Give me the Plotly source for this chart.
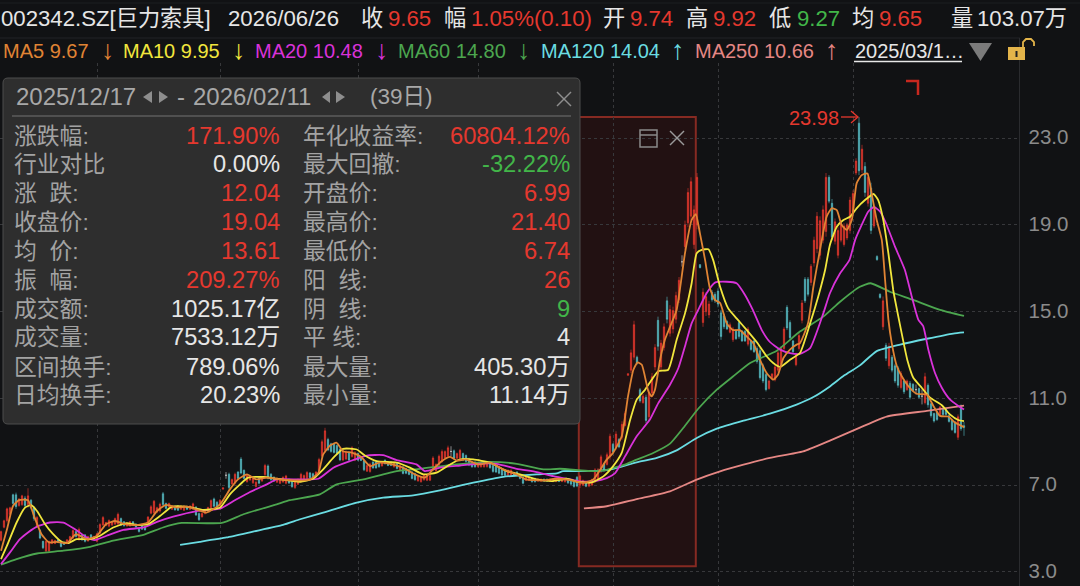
import plotly.graph_objects as go

W, H = 1080, 586
BG = "#111214"
RED = "#e5382e"
GREEN = "#42b649"
TEAL = "#57bcc4"
WHITE = "#e6e6e6"
GRAY = "#a3a3a3"
FONT = "Liberation Sans, Noto Sans CJK SC, sans-serif"

# ---------- candles (one entry per trading day) ----------
highs = [
 4.9,5.4,5.96,6.0,6.6,6.65,6.4,6.55,6.5,6.85,
 6.35,6.03,5.57,4.96,4.43,4.43,4.43,4.5,4.47,4.5,
 4.43,4.38,4.5,4.66,4.96,4.88,5.04,4.73,4.73,4.66,
 4.73,4.66,4.8,5.24,5.57,5.3,5.42,5.34,5.5,5.73,
 5.5,5.34,5.27,5.34,5.34,5.23,5.04,5.15,5.12,5.57,
 6.07,6.31,6.0,6.19,6.68,6.19,6.19,6.07,6.05,6.07,
 6.07,6.07,6.03,6.07,6.19,6.03,5.73,5.73,5.88,6.0,
 6.34,6.42,6.26,6.35,6.88,7.6,7.57,7.3,7.57,7.64,
 8.29,7.72,7.49,7.45,7.35,7.18,7.34,7.4,7.98,7.95,
 7.55,7.4,7.35,7.3,7.4,7.47,7.3,7.2,7.2,7.3,
 7.57,7.49,7.64,7.6,7.57,7.64,8.26,9.1,9.64,9.18,
 8.95,8.95,8.87,8.72,8.64,8.6,8.56,8.79,8.56,8.5,
 8.33,8.18,7.95,8.03,8.1,8.1,8.1,8.05,8.18,8.1,
 8.1,8.05,8.03,7.95,7.87,7.8,7.72,7.64,7.57,7.45,
 7.41,7.5,7.49,7.49,8.33,8.0,8.41,8.64,8.6,8.82,
 8.79,8.64,8.5,8.67,8.5,8.41,8.26,8.1,8.1,8.05,
 8.03,8.05,8.1,8.05,7.95,7.9,7.87,7.75,7.72,7.72,
 7.72,7.6,7.64,7.5,7.41,7.41,7.41,7.34,7.34,7.3,
 7.3,7.3,7.3,7.3,7.3,7.3,7.3,7.3,7.34,7.3,
 7.25,7.18,7.41,7.48,7.25,7.15,7.15,7.3,7.78,7.78,
 8.4,8.02,8.5,9.37,8.94,9.48,9.17,9.94,10.4,12.15,
 13.25,14.58,12.97,11.48,11.2,11.17,11.4,12.17,13.5,14.77,
 13.7,14.46,15.69,15.3,15.23,15.92,16.6,17.6,19.2,20.7,
 21.2,19.9,21.4,17.2,16.08,15.9,15.5,16.0,15.9,16.08,
 15.08,14.9,14.6,14.5,14.3,14.2,14.6,14.15,14.15,14.3,
 13.7,13.7,13.4,13.32,12.6,12.17,11.86,12.17,12.55,13.2,
 13.4,14.3,15.3,14.6,13.7,13.1,14.0,15.54,16.6,16.6,
 17.2,18.46,19.6,19.4,19.9,21.4,21.3,20.2,19.3,18.9,
 19.2,19.08,19.1,20.3,20.6,22.08,23.98,22.7,21.9,21.4,
 20.95,19.85,17.6,15.85,15.7,13.56,13.56,13.0,12.6,12.49,
 12.26,11.87,11.87,11.8,11.7,11.64,11.5,11.41,12.18,11.69,
 10.8,10.34,10.42,10.65,10.57,10.57,10.26,10.03,9.96,10.26,
 10.72,9.92]
lows = [
 4.4,5.0,5.27,5.6,6.1,5.9,6.0,6.03,5.95,5.96,
 5.88,5.35,5.04,4.5,4.04,3.89,3.89,4.27,4.27,4.32,
 4.12,4.23,4.27,4.32,4.5,4.58,4.43,4.43,4.35,4.38,
 4.5,4.43,4.35,4.73,5.11,5.1,5.04,5.11,5.15,5.11,
 5.11,5.08,5.08,5.08,5.11,5.03,4.81,4.93,4.9,5.19,
 5.65,5.65,5.7,5.73,6.03,5.88,5.96,5.85,5.82,5.8,
 5.85,5.8,5.85,5.85,5.85,5.57,5.34,5.5,5.65,5.8,
 5.88,5.96,5.88,6.0,6.8,7.29,6.8,7.0,7.03,7.26,
 7.49,7.26,7.11,7.2,7.05,6.88,7.03,7.15,7.41,7.26,
 7.2,7.15,7.1,7.05,7.1,7.03,7.05,6.88,6.82,7.0,
 7.11,7.18,7.26,7.3,7.26,7.34,7.57,8.26,8.49,8.56,
 8.49,8.45,8.41,8.1,8.1,8.15,8.1,8.26,8.1,8.1,
 8.1,7.64,7.6,7.57,7.75,7.75,7.8,7.85,7.95,7.87,
 7.87,7.8,7.72,7.65,7.49,7.5,7.45,7.26,7.2,7.15,
 7.11,7.2,7.18,7.18,7.64,7.6,7.87,8.03,8.2,8.26,
 8.33,8.18,8.2,8.18,8.1,8.03,7.87,7.8,7.8,7.8,
 7.8,7.8,7.8,7.75,7.57,7.55,7.49,7.41,7.41,7.41,
 7.41,7.41,7.41,7.26,7.03,7.18,7.18,7.11,7.11,7.15,
 7.15,7.15,7.15,7.15,7.13,7.13,7.13,7.13,7.11,7.05,
 7.0,6.88,6.9,6.86,6.95,6.9,6.9,6.95,7.1,7.2,
 7.55,7.63,7.9,8.17,8.48,8.63,8.7,9.09,9.7,12.05,
 12.17,12.78,12.55,10.8,10.75,9.86,10.0,11.1,12.3,13.2,
 12.3,13.2,14.46,13.85,14.0,14.46,15.4,17.08,17.85,18.9,
 19.2,17.9,18.8,17.0,14.3,14.8,14.7,15.46,15.4,15.2,
 13.7,14.2,14.15,14.0,13.6,13.7,13.75,13.6,13.6,13.4,
 13.2,13.1,12.6,11.86,11.7,11.32,11.4,11.86,11.78,12.2,
 12.5,13.2,14.15,13.7,13.1,12.48,13.2,14.46,15.4,15.7,
 16.2,17.08,17.7,17.4,18.15,18.46,20.0,18.3,18.1,17.46,
 18.2,18.0,18.3,18.6,19.5,21.3,21.3,21.4,20.3,19.85,
 18.58,18.85,17.35,15.6,14.15,12.72,12.36,12.2,11.7,11.49,
 11.41,11.2,11.34,10.95,11.3,11.18,11.0,10.72,10.72,10.57,
 10.11,9.88,9.96,10.19,10.19,10.19,9.88,9.5,9.37,9.08,
 9.5,9.27]
opens = [
 4.45,5.05,5.35,5.65,6.55,6.55,6.05,6.1,6.4,6.1,
 6.3,5.95,5.1,4.9,4.4,3.95,3.95,4.3,4.3,4.47,
 4.4,4.35,4.3,4.35,4.55,4.85,4.5,4.7,4.7,4.42,
 4.7,4.47,4.4,4.78,5.16,5.13,5.1,5.15,5.2,5.2,
 5.45,5.3,5.11,5.11,5.3,5.2,5.0,5.12,5.09,5.23,
 5.7,5.72,5.75,5.8,6.6,6.15,5.99,5.88,6.02,6.03,
 5.88,5.84,6.0,5.88,5.9,5.98,5.68,5.53,5.68,5.83,
 5.95,6.36,6.2,6.05,6.81,7.45,7.5,7.05,7.1,7.6,
 8.2,7.68,7.15,7.23,7.1,6.93,7.3,7.18,7.48,7.88,
 7.5,7.36,7.13,7.08,7.14,7.08,7.26,7.16,6.88,7.04,
 7.16,7.22,7.3,7.56,7.52,7.38,7.62,8.33,8.6,9.1,
 8.9,8.9,8.82,8.65,8.15,8.2,8.5,8.32,8.15,8.45,
 8.3,8.12,7.64,7.62,8.06,8.06,8.06,7.88,8.15,8.06,
 8.06,7.84,7.99,7.69,7.83,7.76,7.68,7.6,7.52,7.19,
 7.15,7.24,7.22,7.22,7.7,7.65,7.93,8.1,8.25,8.33,
 8.55,8.58,8.24,8.25,8.45,8.36,8.2,8.06,8.06,7.84,
 7.84,7.84,7.85,8.0,7.9,7.85,7.82,7.7,7.68,7.45,
 7.45,7.57,7.6,7.46,7.37,7.22,7.22,7.3,7.3,7.18,
 7.18,7.27,7.27,7.18,7.16,7.16,7.27,7.16,7.15,7.26,
 7.22,7.14,7.36,6.99,7.0,7.12,6.95,7.0,7.15,7.25,
 7.65,7.98,7.95,8.3,8.88,8.75,9.1,9.2,9.75,12.06,
 12.3,12.9,12.9,11.4,10.8,11.05,10.15,11.25,12.45,14.6,
 12.45,13.35,15.5,14.0,14.2,14.65,15.55,17.3,18.0,19.1,
 19.4,18.1,19.0,17.17,14.5,15.0,14.85,15.9,15.8,15.95,
 14.95,14.8,14.55,14.05,13.7,14.15,14.5,14.1,14.1,13.5,
 13.65,13.65,13.3,13.2,12.5,12.1,11.45,11.9,11.85,12.3,
 12.6,13.3,15.2,14.5,13.65,12.55,13.3,14.6,16.5,16.5,
 16.35,17.25,17.9,17.6,18.3,18.7,21.2,20.0,18.25,17.6,
 18.3,18.1,18.4,18.75,19.6,21.4,23.7,21.55,21.7,20.0,
 20.7,18.95,17.55,15.8,14.3,13.45,12.5,12.9,12.5,12.4,
 11.5,11.8,11.4,11.7,11.65,11.4,11.45,11.1,10.8,11.6,
 10.75,10.3,10.38,10.25,10.5,10.5,10.2,9.98,9.9,9.2,
 10.6,9.74]
closes = [
 4.85,5.35,5.9,5.95,6.15,6.0,6.35,6.5,6.05,6.5,
 5.95,5.45,5.5,4.55,4.1,4.4,4.4,4.47,4.44,4.35,
 4.16,4.26,4.47,4.62,4.9,4.62,4.95,4.47,4.4,4.62,
 4.53,4.62,4.75,5.18,5.5,5.27,5.36,5.3,5.45,5.65,
 5.16,5.12,5.24,5.3,5.15,5.06,4.85,4.96,4.93,5.52,
 6.0,6.25,5.95,6.12,6.1,5.92,6.15,6.03,5.85,5.84,
 6.03,6.03,5.88,6.03,6.13,5.62,5.4,5.69,5.84,5.96,
 6.28,6.02,5.95,6.3,6.87,7.45,6.88,7.25,7.5,7.3,
 7.55,7.3,7.44,7.4,7.3,7.13,7.08,7.36,7.9,7.33,
 7.24,7.18,7.31,7.26,7.36,7.42,7.09,6.92,7.14,7.26,
 7.5,7.44,7.58,7.34,7.3,7.6,8.18,9.0,9.5,8.62,
 8.55,8.5,8.46,8.16,8.58,8.54,8.15,8.72,8.5,8.15,
 8.13,7.7,7.9,7.97,7.79,7.79,7.84,8.02,7.98,7.9,
 7.9,8.01,7.76,7.9,7.53,7.54,7.49,7.3,7.24,7.4,
 7.37,7.45,7.44,7.44,8.25,7.95,8.33,8.55,8.55,8.72,
 8.55,8.24,8.45,8.6,8.15,8.08,7.93,7.84,7.84,8.0,
 7.98,8.0,8.05,7.8,7.62,7.6,7.54,7.46,7.45,7.68,
 7.68,7.44,7.45,7.3,7.08,7.37,7.37,7.15,7.15,7.27,
 7.27,7.18,7.18,7.27,7.27,7.27,7.16,7.27,7.3,7.1,
 7.04,6.93,6.95,7.42,7.2,6.94,7.1,7.25,7.7,7.7,
 8.3,7.68,8.4,9.25,8.54,9.35,8.76,9.8,10.3,12.14,
 13.1,14.4,12.62,10.88,11.1,9.98,11.25,12.0,13.35,13.4,
 13.55,14.3,14.65,15.1,15.05,15.75,16.45,17.3,19.0,20.5,
 21.0,19.7,21.2,17.03,15.9,15.7,15.35,15.55,15.5,15.35,
 13.85,14.3,14.2,14.4,14.2,13.75,13.85,13.65,13.65,14.2,
 13.25,13.15,12.7,11.95,11.8,11.4,11.8,12.12,12.45,13.1,
 13.3,14.2,14.25,13.8,13.15,13.0,13.9,15.4,15.5,15.8,
 17.1,18.3,19.4,19.2,19.7,21.2,20.1,18.45,19.15,18.75,
 19.05,18.95,19.0,20.15,20.45,21.95,21.5,22.5,20.5,21.2,
 18.75,19.7,17.4,15.65,15.5,12.85,13.4,12.3,11.8,11.6,
 12.15,11.3,11.8,11.05,11.35,11.4,11.05,11.1,12.0,10.7,
 10.2,9.95,10.02,10.6,10.25,10.25,9.93,9.55,9.42,10.15,
 9.6,9.65]
days = list(range(len(closes)))
assert len(highs) == len(lows) == len(opens) == len(closes) == 322

# ---------- moving averages, read at the bends of each curve ----------
ma5_x = [0,2,4,6,9,11,13.5,16,18.6,22,25,28.6,32,35,38,41.3,45,49,52,55,58.6,62,65,68.5,73,76.3,79,82,85,88.6,93,99.7,
 103,105.8,107.4,109.7,111.9,114,116.9,120,123,126,129.7,134,138,141.3,144,146.9,149.7,151.9,155,159,163,167.4,171.9,175,180.8,185,189.7,194,
 197.4,201.9,204,206.9,209,210.8,212.2,213.6,215.8,216.9,218,219.7,221.3,223,225.2,228,230.2,231.6,233,234.7,236.3,238,239.7,241.9,244,246.3,248.6,250.8,
 253,255.2,257.4,259,260.8,263,265.2,266.3,269,270.8,273,275.2,276.9,278.6,280.2,281.9,283.6,285.2,286.9,288.8,290.2,291.9,293.6,294.7,295.8,296.9,298.6,300.2,302.4,305.2,308.6,310.8,313,315.8,318,321]
ma5_y = [3.97,4.96,6.03,6.3,6.3,5.57,4.73,4.35,4.38,4.32,4.73,4.5,4.66,5.19,5.34,5.19,5.15,5.27,5.8,6.08,5.96,6.0,5.88,5.73,6.11,6.8,7.26,7.49,7.26,7.34,7.26,7.21,
 7.26,7.57,8.41,8.82,8.95,8.56,8.49,8.3,7.87,8.03,7.98,7.8,7.49,7.34,7.72,8.1,8.3,8.13,8.18,7.95,8.03,7.72,7.49,7.26,7.21,7.29,7.23,7.1,
 7.25,8.17,8.48,9.25,11.09,12.32,12.66,12.55,11.32,11.09,11.4,12.78,13.7,14.3,15.08,17.7,19.23,19.5,18.6,17.38,16.08,15.54,15.4,14.46,14.15,14.15,13.85,13.54,
 12.78,12.17,11.86,12.09,12.86,13.25,13.48,13.54,14.46,16.15,17.85,19.38,19.77,19.69,19.0,18.77,19.23,20.92,21.3,21.38,20.46,19.23,18.3,16.46,14.63,13.56,12.49,12.03,11.57,11.21,11.18,10.65,10.19,10.16,9.88,9.67]

ma10_x = [0,2,5.2,8,10,12,14.7,17.4,20.2,22.4,25.2,29.7,33,37.4,41.9,45.2,49,53,57,62,67.5,73,76.3,79.7,82.4,87.5,91.9,99.7,
 104,107.4,110.8,114,118.6,121.3,125.2,131.9,136.3,140.8,145.2,149.7,153,157.4,163,168.6,173,178.6,184,188.6,192,196.9,
 200.8,204,206.9,209.7,211.9,214.7,216.9,219.1,222.4,225.2,228,230.2,231.9,233.6,235.8,237.4,239.7,242.4,245.2,248.6,251.9,
 255.2,257.4,259.7,263,266.3,269.7,272.4,274.7,276.3,278.6,280.8,283,285.2,288,290.8,292.4,294.1,295.8,297.4,298,300.2,302.2,304.1,306.9,309.7,313.6,316.3,319.1,321]
ma10_y = [3.58,4.2,5.27,5.96,6.07,5.8,5.19,4.73,4.38,4.32,4.5,4.5,4.66,5.04,5.24,5.15,5.19,5.57,6.0,6.0,5.85,5.96,6.57,7.03,7.34,7.37,7.29,7.15,
 7.29,7.72,8.26,8.67,8.64,8.36,8.1,8.03,7.8,7.49,7.57,7.95,8.18,8.18,8.03,7.64,7.49,7.26,7.18,7.29,7.15,7.12,
 7.4,7.86,8.48,10.0,10.94,11.4,11.86,12.25,12.32,13.69,14.92,16.3,17.7,17.85,17.88,17.38,16.15,15.15,14.69,14.15,13.6,
 12.94,12.63,12.45,12.78,13.09,14.46,15.69,16.92,18.08,18.92,19.23,19.38,19.77,20.15,20.43,20.15,19.23,17.69,16.0,15.55,14.02,12.72,11.95,11.49,11.03,10.68,10.26,10.0,9.95]

ma20_x = [0,3,6.3,9,12,16.3,20.8,24.7,28.6,31.3,35.2,40.8,47.5,52,57.4,65.2,73,77.5,83,88.6,91.9,99.7,
 105.8,110.8,116.3,121.9,127.4,131.9,138.5,141.3,146.3,153,158.6,165.2,171.9,178.6,184.1,190.8,193,198,201.9,204.7,208,211.9,216.3,219.1,223,225.8,
 228.2,230.2,232.4,235.2,238,241.9,245.2,248,250.6,253.6,256.3,259.7,263,266.3,269.7,
 274.1,276.3,279.7,282.8,284.7,286.9,289.1,291,293,295,298,301.3,303.6,305.8,307.4,309.1,311.3,313.6,316.3,319.1,321]
ma20_y = [3.35,3.89,4.5,4.81,5.08,5.27,5.27,4.96,4.58,4.46,4.66,4.93,5.04,5.3,5.54,5.8,5.91,6.26,6.68,7.03,7.26,7.26,
 7.29,7.8,8.1,8.36,8.38,8.15,7.95,7.64,7.8,7.9,7.98,7.98,7.75,7.6,7.41,7.23,7.17,7.18,7.32,7.55,8.32,9.25,10.02,10.78,11.63,12.4,
 13.5,14.46,15.08,15.85,16.34,16.38,16.31,15.77,15.08,14.15,13.6,13.25,13.09,13.05,13.32,
 14.92,15.85,16.77,17.38,18.3,19.0,19.62,19.83,19.62,19.08,18.0,16.92,15.69,14.62,14.33,13.25,12.18,11.49,10.95,10.65,10.48]

ma60_x = [0,5.2,12,20.8,29.7,37.4,47.5,54,60.2,73.6,80.8,91.9,96.3,106.3,111.9,120.8,131.9,139.7,151.9,163,171.9,180.8,186.3,196.3,200.8,208.6,211.9,217.4,223,227.4,232.4,238.6,244.1,249.7,258.6,266.3,274.1,279.7,286.3,289.9,296.3,304.1,313,321]
ma60_y = [3.32,3.58,3.84,3.97,4.15,4.43,4.7,5.04,5.25,5.25,5.65,6.11,6.3,6.57,7.03,7.26,7.64,7.75,7.95,8.07,7.98,7.72,7.75,7.64,7.66,7.98,8.17,8.48,8.91,9.63,10.52,11.4,12.02,12.63,13.2,14.08,14.77,15.46,16.15,16.31,15.92,15.54,15.08,14.8]

ma120_x = [59.7,66.3,75.2,84,94,99.7,107.4,118.6,127.4,137.4,146.3,157.4,167.4,178.6,185.2,187.4,196.3,203,211.9,218.6,225.2,231.9,238.6,247.5,256.3,265.2,270.8,276.3,281,286.3,291.9,299.7,308.6,317.4,321]
ma120_y = [4.24,4.38,4.58,4.85,5.16,5.42,5.73,6.19,6.42,6.52,6.75,7.11,7.38,7.49,7.54,7.64,7.64,7.71,8.05,8.25,8.6,9.17,9.6,9.97,10.29,10.71,11.06,11.55,12.05,12.52,13.18,13.48,13.75,13.99,14.04]

ma250_x = [194.3,201.9,211.9,223,231.9,239.7,247.5,256.3,267.4,276.3,286.3,295.2,308.6,321]
ma250_y = [5.92,6.02,6.35,6.71,7.25,7.63,7.94,8.25,8.55,9.05,9.65,10.16,10.42,10.66]

# ---------- axis values ----------
y_ticks = [3, 7, 11, 15, 19, 23]
y_labels = ["3.0", "7.0", "11.0", "15.0", "19.0", "23.0"]
month_lines = [32, 73, 119, 159, 204, 239, 284]

# ---------- texts ----------
panel_left = [("涨跌幅:", "171.90%", RED), ("行业对比", "0.00%", WHITE), ("涨\u00a0\u00a0跌:", "12.04", RED),
              ("收盘价:", "19.04", RED), ("均\u00a0\u00a0价:", "13.61", RED), ("振\u00a0\u00a0幅:", "209.27%", RED),
              ("成交额:", "1025.17亿", WHITE), ("成交量:", "7533.12万", WHITE), ("区间换手:", "789.06%", WHITE),
              ("日均换手:", "20.23%", WHITE)]
panel_right = [("年化收益率:", "60804.12%", RED), ("最大回撤:", "-32.22%", GREEN), ("开盘价:", "6.99", RED),
               ("最高价:", "21.40", RED), ("最低价:", "6.74", RED), ("阳\u00a0\u00a0线:", "26", RED),
               ("阴\u00a0\u00a0线:", "9", GREEN), ("平\u00a0线:", "4", WHITE), ("最大量:", "405.30万", WHITE),
               ("最小量:", "11.14万", WHITE)]
row_y = [135.7, 164.3, 192.7, 221.7, 251, 280, 309, 337.3, 366.7, 395]

header = [(0, "002342.SZ[巨力索具]", WHITE), (227, "2026/06/26", WHITE), (360, "收", WHITE), (387, "9.65", RED),
          (443, "幅", WHITE), (470, "1.05%(0.10)", RED), (602, "开", WHITE), (629, "9.74", RED),
          (685, "高", WHITE), (712, "9.92", RED), (768, "低", WHITE), (796, "9.27", GREEN),
          (851, "均", WHITE), (878, "9.65", RED), (950, "量", WHITE), (976, "103.07万", WHITE)]
ma_row = [(2, "MA5 9.67", "#e08434"), (122, "MA10 9.95", "#f1e63d"), (254, "MA20 10.48", "#d932d9"),
          (397, "MA60 14.80", "#4ca64f"), (540, "MA120 14.04", "#6adce2"), (694, "MA250 10.66", "#e58784"),
          (854, "2025/03/1…", WHITE)]
ma_arrows = [(107.5, "↓", "#e08434"), (238.5, "↓", "#f1e63d"), (381.5, "↓", "#d932d9"), (524, "↓", "#4ca64f"),
             (678, "↑", "#6adce2"), (832, "↑", "#e58784")]

# ---------- scales ----------
X_MIN = -1 / 3
X_MAX = X_MIN + 1019.5 / 3
Y_TOP = 3 + (571.7 - 63) / 21.67
Y_BOT = 3 - (586 - 571.7) / 21.67

fig = go.Figure()


def candles(idx, color):
    fig.add_trace(go.Candlestick(
        x=[days[i] for i in idx], open=[opens[i] for i in idx], high=[highs[i] for i in idx],
        low=[lows[i] for i in idx], close=[closes[i] for i in idx], whiskerwidth=0,
        increasing=dict(line=dict(color=color, width=0.6), fillcolor=color),
        decreasing=dict(line=dict(color=color, width=0.6), fillcolor=color),
        hoverinfo="skip", showlegend=False))


candles([i for i in days if closes[i] > opens[i]], RED)
candles([i for i in days if closes[i] < opens[i]], TEAL)
candles([i for i in days if closes[i] == opens[i]], "#d8d8d8")

for xs, ys, col in [(ma250_x, ma250_y, "#e58784"), (ma120_x, ma120_y, "#6adce2"), (ma60_x, ma60_y, "#4ca64f"),
                    (ma20_x, ma20_y, "#d932d9"), (ma10_x, ma10_y, "#f1e63d"), (ma5_x, ma5_y, "#e08434")]:
    fig.add_trace(go.Scatter(x=xs, y=ys, mode="lines", line=dict(color=col, width=1.8, shape="spline", smoothing=0.5),
                             hoverinfo="skip", showlegend=False))

shapes = []
annos = []


def px(x):
    return x / W


def py(y):
    return 1 - y / H


def line(x0, y0, x1, y1, color, width=1):
    shapes.append(dict(type="line", xref="paper", yref="paper", x0=px(x0), x1=px(x1), y0=py(y0), y1=py(y1),
                       line=dict(color=color, width=width)))


def poly(points, fill=None, color=None, width=1, close=True):
    d = "M" + " L".join(f"{px(a):.5f},{py(b):.5f}" for a, b in points)
    if close:
        d += " Z"
    shapes.append(dict(type="path", xref="paper", yref="paper", path=d,
                       fillcolor=fill or "rgba(0,0,0,0)",
                       line=dict(color=color or "rgba(0,0,0,0)", width=width)))


def text(x, y, s, color, size, anchor="left"):
    annos.append(dict(xref="paper", yref="paper", x=px(x), y=py(y), text=s, showarrow=False, xanchor=anchor,
                      yanchor="middle", borderpad=0, font=dict(family=FONT, size=size, color=color)))


# frame lines
line(0, 3, 1080, 3, "#1d1e21")
line(0, 38, 1020, 38, "#222327", 1)
line(1019.5, 38, 1019.5, 586, "#2a2b2e", 1)

# selected range box (data coordinates)
shapes.append(dict(type="rect", xref="x", yref="y", x0=192.6, x1=231.6, y0=3.25, y1=23.98, layer="below",
                   fillcolor="#221112", line=dict(color="#862a22", width=2)))
# range box icons
poly([(640, 130), (657, 130), (657, 147), (640, 147)], color="#8a8a8a", width=1.5)
line(640, 135, 657, 135, "#8a8a8a", 1.5)
line(670, 131, 684, 145, "#9a9a9a", 1.4)
line(684, 131, 670, 145, "#9a9a9a", 1.4)

# corner mark
poly([(906, 81), (918, 81), (918, 95)], color="#c8281f", width=2.5, close=False)

# info panel
R = 5
L_, T_, R_, B_ = 3, 78, 580, 424
shapes.append(dict(type="path", xref="paper", yref="paper",
                   path=f"M{px(L_+R)},{py(T_)} L{px(R_-R)},{py(T_)} Q{px(R_)},{py(T_)} {px(R_)},{py(T_+R)} "
                        f"L{px(R_)},{py(B_-R)} Q{px(R_)},{py(B_)} {px(R_-R)},{py(B_)} L{px(L_+R)},{py(B_)} "
                        f"Q{px(L_)},{py(B_)} {px(L_)},{py(B_-R)} L{px(L_)},{py(T_+R)} Q{px(L_)},{py(T_)} {px(L_+R)},{py(T_)} Z",
                   fillcolor="#2e2e2e", line=dict(color="#4d4d4d", width=1)))
line(12, 116, 571, 116, "#5c5c5c", 1.5)
line(557, 92, 571, 106, "#8e8e8e", 1.4)
line(571, 92, 557, 106, "#8e8e8e", 1.4)
for x0, x1 in [(152, 143), (330, 322)]:
    poly([(x0, 91), (x1, 97), (x0, 103)], fill="#8e8e8e")
for x0, x1 in [(159, 168), (336, 345)]:
    poly([(x0, 91), (x1, 97), (x0, 103)], fill="#8e8e8e")
text(14.5, 96.5, "2025/12/17", "#a8a8a8", 24)
text(176, 96.5, "-", "#a8a8a8", 24)
text(192.5, 96.5, "2026/02/11", "#a8a8a8", 24)
text(368.5, 96.5, "(39日)", "#a8a8a8", 22.5)
for y, (lab, val, col) in zip(row_y, panel_left):
    text(12.5, y, lab, GRAY, 22.8)
    text(281, y, val, col, 23.7, "right")
for y, (lab, val, col) in zip(row_y, panel_right):
    text(301.5, y, lab, GRAY, 22.8)
    text(571, y, val, col, 23.7, "right")

# header rows
for x, s, col in header:
    text(x, 18.5, s, col, 22.2)
for x, s, col in ma_row:
    text(x, 50.5, s, col, 20)
for x, s, col in ma_arrows:
    text(x, 50, s, col, 27, "center")
line(854, 61.5, 962, 61.5, "#e8e8e8", 1.5)
poly([(969, 43), (992, 43), (980.5, 61)], fill="#7b7b7b")
# lock icon
poly([(1008, 47), (1025, 47), (1025, 60), (1008, 60)], fill="#e3b44a")
poly([(1023, 47), (1023, 42), (1026, 39), (1031, 39), (1034, 42), (1034, 46)], color="#e3b44a", width=1.8, close=False)
poly([(1015.5, 51), (1017.5, 51), (1017.5, 57), (1015.5, 57)], fill="#222222")

# highest price flag
text(840, 117.5, "23.98", RED, 20, "right")
line(841, 117, 858, 117, RED, 1.3)
poly([(851, 111), (858, 117), (851, 123)], color=RED, width=1.3, close=False)

fig.update_layout(
    width=W, height=H, margin=dict(l=0, r=0, t=0, b=0),
    paper_bgcolor=BG, plot_bgcolor=BG, showlegend=False,
    shapes=shapes, annotations=annos, hovermode=False, boxgap=0.55, boxgroupgap=0,
    xaxis=dict(domain=[0, 1019.5 / W], range=[X_MIN, X_MAX], tickmode="array", tickvals=month_lines,
               showticklabels=False, ticks="", showgrid=True, gridcolor="#37383b", griddash="dot", gridwidth=1,
               zeroline=False, rangeslider=dict(visible=False), showline=False, fixedrange=True),
    yaxis=dict(domain=[0, (H - 63) / H], range=[Y_BOT, Y_TOP], side="right", tickmode="array", tickvals=y_ticks,
               ticktext=y_labels, showgrid=True, gridcolor="#37383b", griddash="dot", gridwidth=1, zeroline=False,
               ticks="", showline=False, ticklabelstandoff=8, ticklabelshift=-1,
               tickfont=dict(family=FONT, size=20.5, color="#8b8b8b"), fixedrange=True),
)

fig.write_html("out.html", config=dict(displayModeBar=False, staticPlot=True),
               post_script=f"document.body.style.margin='0';document.body.style.background='{BG}';")
